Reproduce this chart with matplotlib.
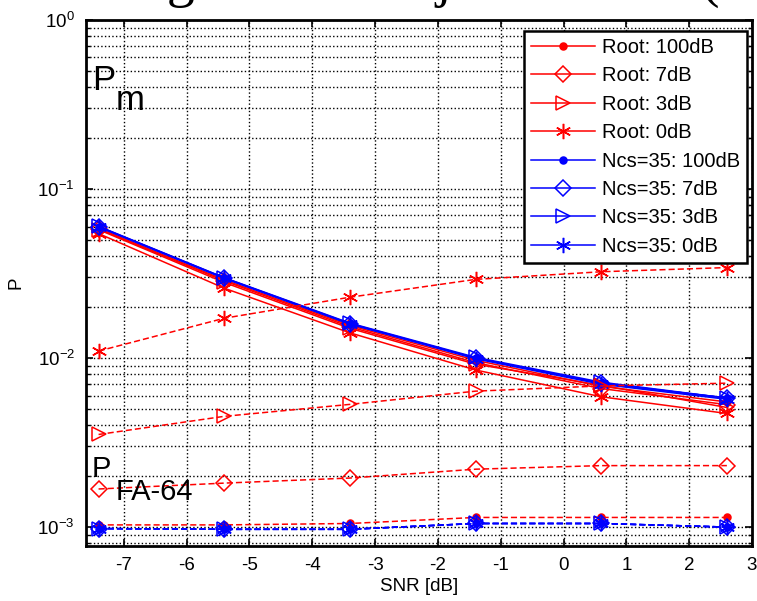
import matplotlib
matplotlib.use("Agg")
import matplotlib.pyplot as plt
from matplotlib.ticker import LogLocator, FixedLocator

plt.rcParams['font.family'] = ['Liberation Sans', 'DejaVu Sans']
plt.rcParams['mathtext.fontset'] = 'custom'
plt.rcParams['mathtext.rm'] = 'Liberation Sans'
plt.rcParams['mathtext.default'] = 'regular'
plt.rcParams['axes.unicode_minus'] = False

snr = [-7.4, -5.4, -3.4, -1.4, 0.6, 2.6]

labels = ["Root: 100dB", "Root: 7dB", "Root: 3dB", "Root: 0dB",
          "Ncs=35: 100dB", "Ncs=35: 7dB", "Ncs=35: 3dB", "Ncs=35: 0dB"]

pm_root_100 = [0.0585, 0.0290, 0.0156, 0.0097, 0.0068, 0.0055]
pm_root_7 = [0.0580, 0.0286, 0.0153, 0.0094, 0.0066, 0.0053]
pm_root_3 = [0.0575, 0.0280, 0.0150, 0.0092, 0.0069, 0.0051]
pm_root_0 = [0.0545, 0.0259, 0.0141, 0.0085, 0.0059, 0.0047]
pm_ncs_100 = [0.0600, 0.0298, 0.0160, 0.0100, 0.0071, 0.0058]
pm_ncs_7 = [0.0598, 0.0297, 0.0159, 0.0100, 0.0071, 0.0058]
pm_ncs_3 = [0.0602, 0.0299, 0.0161, 0.0101, 0.0072, 0.0058]
pm_ncs_0 = [0.0596, 0.0296, 0.0159, 0.0099, 0.0070, 0.0057]

pfa_root_100 = [0.00103, 0.00103, 0.00105, 0.00114, 0.00114, 0.00114]
pfa_root_7 = [0.00168, 0.00182, 0.00195, 0.00220, 0.00231, 0.00231]
pfa_root_3 = [0.00353, 0.00452, 0.00532, 0.00637, 0.00684, 0.00710]
pfa_root_0 = [0.0110, 0.0172, 0.0229, 0.0292, 0.0324, 0.0343]
pfa_ncs_100 = [0.00098, 0.00097, 0.00097, 0.00105, 0.00105, 0.00100]
pfa_ncs_7 = [0.00098, 0.00097, 0.00097, 0.00105, 0.00105, 0.00100]
pfa_ncs_3 = [0.00098, 0.00097, 0.00097, 0.00105, 0.00105, 0.00100]
pfa_ncs_0 = [0.00098, 0.00097, 0.00097, 0.00105, 0.00105, 0.00100]

x_ticks = [-7, -6, -5, -4, -3, -2, -1, 0, 1, 2, 3]

pm_all = [pm_root_100, pm_root_7, pm_root_3, pm_root_0,
          pm_ncs_100, pm_ncs_7, pm_ncs_3, pm_ncs_0]
pfa_all = [pfa_root_100, pfa_root_7, pfa_root_3, pfa_root_0,
           pfa_ncs_100, pfa_ncs_7, pfa_ncs_3, pfa_ncs_0]

colors = ['#ff0000'] * 4 + ['#0000ff'] * 4
markers = ['o', 'D', '>', (6, 2, 0)] * 2
msizes = [5, 8.5, 10, 11] * 2
filled = [True, False, False, False] * 2

fig = plt.figure(figsize=(7.57, 6.01), dpi=100)
ax = fig.add_axes([86 / 757, 55 / 601, 666 / 757, 526 / 601])

for pm, c, m, ms, f, lab in zip(pm_all, colors, markers, msizes, filled, labels):
    ax.plot(snr, pm, color=c, linestyle='-', linewidth=1.1, marker=m,
            markersize=ms, markerfacecolor=c if f else 'none',
            markeredgecolor=c, markeredgewidth=1.1, label=lab)
for pfa, c, m, ms, f in zip(pfa_all, colors, markers, msizes, filled):
    ax.plot(snr, pfa, color=c, linestyle=(0, (4, 2)), linewidth=1.1, marker=m,
            markersize=ms, markerfacecolor=c if f else 'none',
            markeredgecolor=c, markeredgewidth=1.1)

ax.set_yscale('log')
ax.set_xlim(-7.6, 3)
ax.set_ylim(10 ** -3.112, 1)
ax.xaxis.set_major_locator(FixedLocator(x_ticks))
ax.yaxis.set_major_locator(LogLocator(base=10, numticks=10))
ax.yaxis.set_minor_locator(LogLocator(base=10, subs=range(2, 10), numticks=20))

ax.grid(True, which='major', color='black', linestyle=':', linewidth=1.0)
ax.grid(True, which='minor', axis='y', color='black', linestyle=':', linewidth=1.0)

for s in ax.spines.values():
    s.set_linewidth(2.0)
    s.set_color('black')
ax.tick_params(which='both', direction='in', top=True, right=True,
               labelsize=13.5, colors='black')
ax.tick_params(which='major', length=5, width=1.2, pad=8)
ax.tick_params(which='minor', length=3, width=1.0)

ax.set_xlabel('SNR [dB]', fontsize=13.5, labelpad=3)
ax.set_ylabel('P', fontsize=13.5, labelpad=9)

leg = ax.legend(loc='upper right', bbox_to_anchor=(0.9925, 0.979),
                borderaxespad=0, fontsize=14.5, frameon=True, fancybox=False,
                edgecolor='black', framealpha=1, handlelength=3.2,
                handletextpad=0.35, labelspacing=0.47, borderpad=0.33)
leg.get_frame().set_linewidth(1.8)

# Annotations
fig.text(92 / 757, 1 - 90 / 601, 'P', fontsize=25, va='baseline', ha='left')
fig.text(116 / 757, 1 - 110 / 601, 'm', fontsize=25, va='baseline', ha='left')
fig.text(92 / 757, 1 - 477 / 601, 'P', fontsize=21, va='baseline', ha='left')
fig.text(116 / 757, 1 - 500 / 601, 'FA-64', fontsize=21, va='baseline', ha='left')

# Title (mostly cut off at the top of the image, as in the reference)
fig.text(16 / 757, 1 + 4 / 601, 'Missing detect / adjusted false (Ncs=35)',
         fontsize=40, family='Liberation Serif', va='baseline', ha='left')

fig.savefig('out.png', dpi=100)
